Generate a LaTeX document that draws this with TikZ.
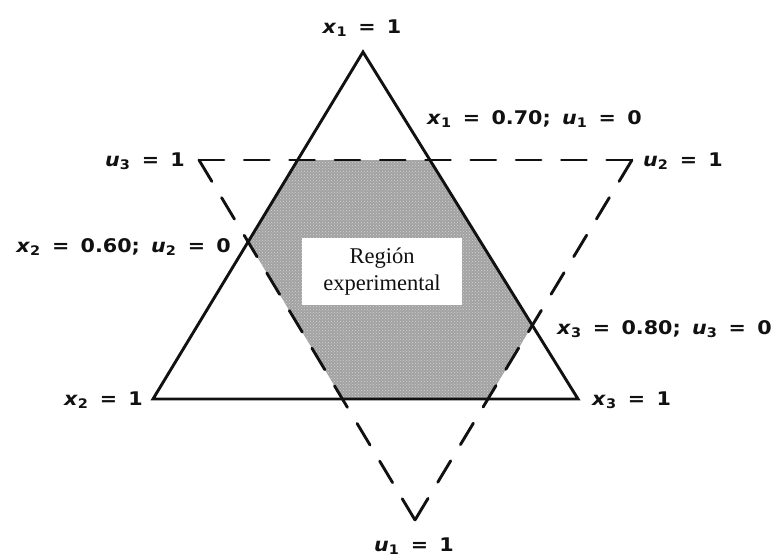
\documentclass[tikz,border=0pt]{standalone}
\usepackage{fontspec}
\setmainfont{DejaVu Sans}
\newfontfamily\lblfont[FakeStretch=1.1]{DejaVu Sans}
\newfontfamily\regionfont{Liberation Serif}
\usepackage{tikz}
\usetikzlibrary{patterns}
\definecolor{ink}{HTML}{111111}
\definecolor{stipple}{HTML}{A2A2A2}
\definecolor{dotlight}{HTML}{D2D2D2}
\newcommand{\gp}{\hspace{0.6em}}
\newcommand{\xv}[1]{\textit{x}\textsubscript{#1}}
\newcommand{\uv}[1]{\textit{u}\textsubscript{#1}}
\tikzset{
    every picture/.style={line cap=round,line join=round},
    solidtri/.style={draw=ink,line width=2.9pt,line join=miter},
    dashedge/.style={draw=ink,line width=2.9pt,dash pattern=on 25pt off #1},
    eqlabel/.style={font=\lblfont\bfseries\fontsize{18.8}{22}\selectfont,
      text=ink,inner sep=0pt},
    regionbox/.style={fill=white,minimum width=160pt,minimum height=67pt,
      inner sep=0pt,align=center,text=ink,
      font=\regionfont\fontsize{22.5}{27}\selectfont},
    hexfill/.style={fill=stipple},
    hexdots/.style={pattern=crosshatch dots,pattern color=dotlight}
}
\begin{document}
\begin{tikzpicture}[x=1pt,y=-1pt]
  \useasboundingbox (0,0) rectangle (777,557);
  % vertices of the two triangles
  \coordinate (x1) at (363,52);
  \coordinate (x2) at (153,399);
  \coordinate (x3) at (578,399);
  \coordinate (u3) at (199,160);
  \coordinate (u2) at (632,160);
  \coordinate (u1) at (415,520);

  % experimental region
  \coordinate (h1) at (intersection of x1--x2 and u3--u2);
  \coordinate (h2) at (intersection of x1--x3 and u3--u2);
  \coordinate (h3) at (intersection of x1--x3 and u2--u1);
  \coordinate (h4) at (intersection of x2--x3 and u2--u1);
  \coordinate (h5) at (intersection of x2--x3 and u3--u1);
  \coordinate (h6) at (intersection of x1--x2 and u3--u1);
  \fill[hexfill] (h1)--(h2)--(h3)--(h4)--(h5)--(h6)--cycle;
  \fill[hexdots] (h1)--(h2)--(h3)--(h4)--(h5)--(h6)--cycle;
  \node[regionbox] (reg) at (382,271.5) {Región\\experimental};

  \draw[solidtri] (x1)--(x2)--(x3)--cycle;
  \draw[dashedge=20.3pt] (u3)--(u2);
  \draw[dashedge=18.9pt] (u2)--(u1);
  \draw[dashedge=18.9pt] (u3)--(u1);

  \node[eqlabel,anchor=base] (lx1) at (362,33) {\xv1\gp=\gp1};
  \node[eqlabel,anchor=base west] (lx1u) at (427,124) {\xv1\gp=\gp0.70;\gp\uv1\gp=\gp0};
  \node[eqlabel,anchor=base east] (lu3) at (185,166) {\uv3\gp=\gp1};
  \node[eqlabel,anchor=base west] (lu2) at (643,166) {\uv2\gp=\gp1};
  \node[eqlabel,anchor=base east] (lx2u) at (231,252) {\xv2\gp=\gp0.60;\gp\uv2\gp=\gp0};
  \node[eqlabel,anchor=base west] (lx3u) at (557,334) {\xv3\gp=\gp0.80;\gp\uv3\gp=\gp0};
  \node[eqlabel,anchor=base east] (lx2) at (143,405) {\xv2\gp=\gp1};
  \node[eqlabel,anchor=base west] (lx3) at (592,405) {\xv3\gp=\gp1};
  \node[eqlabel,anchor=base] (lu1) at (414,551) {\uv1\gp=\gp1};
\end{tikzpicture}
\end{document}
